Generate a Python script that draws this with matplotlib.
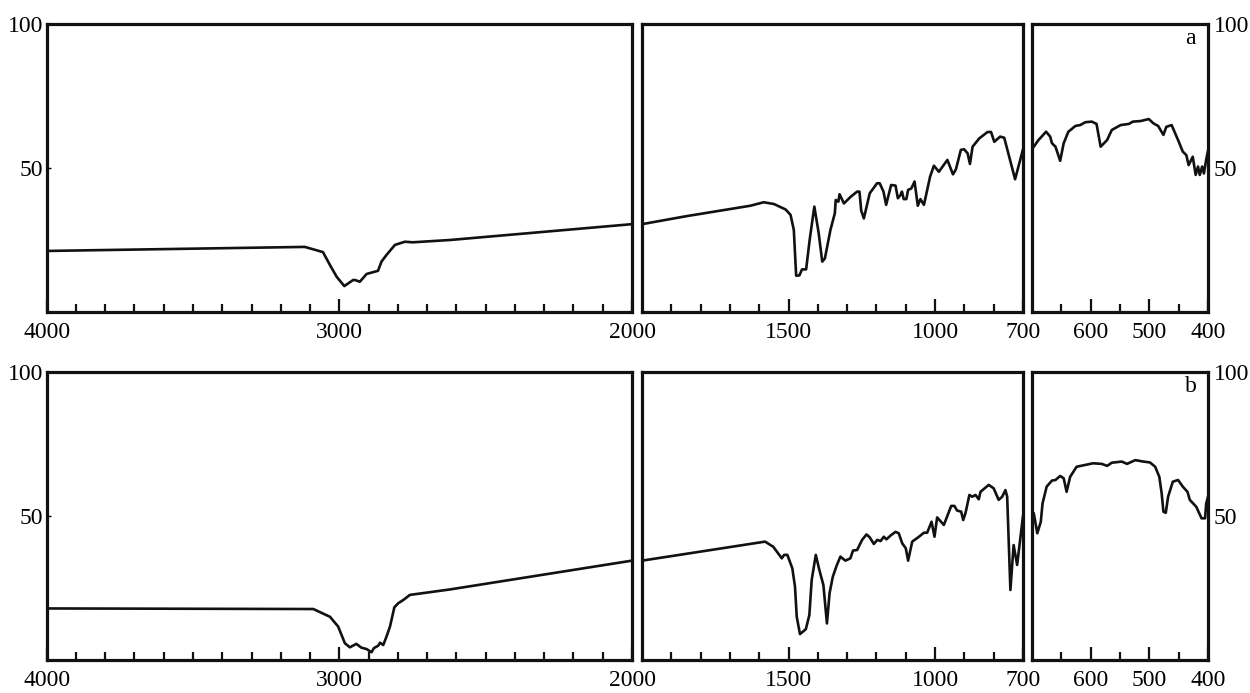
import matplotlib
matplotlib.use("Agg")
import matplotlib.pyplot as plt
from matplotlib.ticker import FixedLocator, NullLocator

plt.rcParams['font.family'] = ['Liberation Serif', 'DejaVu Serif']

# ---- data (wavenumber cm-1, transmittance %) ----
wn_a = [4000, 3118, 3056, 3032, 3009, 2983, 2953, 2946, 2930, 2907, 2868, 2856, 2839, 2810,
        2776, 2749, 2622, 2000, 1847, 1630, 1585, 1550, 1510, 1493, 1482, 1474, 1463, 1454,
        1440, 1428, 1412, 1397, 1385, 1376, 1357, 1342, 1339, 1330, 1326, 1311, 1288, 1266,
        1258, 1252, 1243, 1223, 1198, 1189, 1176, 1167, 1150, 1135, 1127, 1118, 1113, 1107,
        1098, 1092, 1081, 1070, 1059, 1050, 1038, 1017, 1004, 987, 958, 939, 929, 912, 901,
        889, 881, 872, 849, 821, 809, 798, 778, 764, 727, 700, 689, 676, 669, 666, 660, 652,
        646, 638, 626, 618, 609, 598, 590, 583, 572, 564, 549, 535, 528, 515, 501, 493, 485,
        476, 471, 462, 451, 443, 437, 433, 426, 421, 417, 414, 410, 407, 403, 400]
T_a = [21.2, 22.6, 20.8, 16.3, 12.2, 9.0, 11.1, 11.1, 10.5, 13.2, 14.3, 17.5, 19.8, 23.3,
       24.4, 24.2, 25.0, 30.5, 33.3, 36.9, 38.1, 37.5, 35.6, 33.7, 28.5, 12.6, 12.7, 14.8,
       14.8, 25.0, 36.6, 27.3, 17.5, 18.6, 28.5, 34.3, 38.9, 38.3, 40.9, 37.7, 40.0, 41.8,
       41.8, 35.2, 32.5, 41.2, 44.7, 44.7, 41.8, 37.2, 44.1, 43.9, 39.5, 40.6, 41.8, 39.2,
       39.2, 42.4, 42.9, 45.3, 36.9, 39.2, 37.2, 47.0, 50.8, 48.7, 52.8, 47.8, 49.5, 56.3, 56.5,
       55.1, 51.4, 57.4, 60.3, 62.5, 62.5, 59.1, 60.9, 60.5, 46.1, 56.5, 59.7, 62.6, 60.9, 58.6,
       57.4, 52.5, 58.6, 62.6, 64.6, 64.9, 65.9, 66.1, 65.3, 57.4, 59.7, 63.2, 64.9, 65.3, 66.1,
       66.3, 67.0, 65.5, 64.6, 61.5, 64.3, 64.9, 59.7, 55.7, 54.5, 51.0, 53.9, 47.6, 50.5, 47.6,
       50.5, 48.1, 53.0, 56.0]

wn_b = [4000, 3089, 3032, 3004, 2981, 2964, 2942, 2925, 2907, 2890, 2882, 2867, 2861, 2850,
        2839, 2827, 2812, 2799, 2782, 2759, 2622, 2000, 1580, 1552, 1523, 1515, 1504, 1487,
        1478, 1472, 1461, 1441, 1429, 1421, 1407, 1395, 1381, 1369, 1360, 1349, 1335, 1323,
        1306, 1289, 1280, 1266, 1249, 1234, 1223, 1209, 1197, 1186, 1175, 1166, 1152, 1135,
        1124, 1112, 1100, 1092, 1078, 1055, 1038, 1027, 1012, 1002, 993, 970, 945, 934, 925,
        911, 904, 896, 883, 873, 862, 851, 845, 817, 800, 783, 771, 760, 754, 743, 732, 720,
        700, 697, 691, 685, 682, 675, 666, 660, 652, 646, 641, 635, 624, 610, 596, 581, 572,
        564, 547, 538, 524, 510, 499, 490, 483, 479, 476, 472, 468, 460, 451, 443, 435, 431,
        420, 411, 405, 403, 400]
T_b = [17.9, 17.7, 15.0, 11.6, 5.8, 4.4, 5.6, 4.3, 3.8, 2.7, 4.1, 5.0, 6.0, 5.2,
       8.1, 11.6, 18.3, 19.7, 20.8, 22.6, 24.5, 34.5, 41.1, 39.3, 35.3, 36.5, 36.5, 31.8,
       25.5, 15.0, 9.0, 10.7, 15.6, 27.8, 36.5, 31.3, 26.0, 12.7, 23.2, 28.9, 33.0, 35.9,
       34.5, 35.3, 38.0, 38.2, 41.7, 43.6, 42.6, 40.3, 41.7, 41.3, 42.8, 41.9, 43.2, 44.5,
       44.0, 40.5, 38.8, 34.5, 41.1, 42.8, 44.2, 44.2, 48.0, 42.8, 49.5, 46.9, 53.5, 53.5, 51.9,
       51.5, 48.6, 51.1, 57.3, 56.7, 57.3, 55.8, 58.4, 60.8, 59.6, 55.6, 56.7, 59.0, 56.7, 24.3,
       39.9, 33.0,
       50.0, 51.0, 44.0, 48.0, 54.4, 60.2, 62.3, 62.5, 63.9, 63.1, 58.4, 63.6, 67.1, 67.7,
       68.3, 68.1, 67.4, 68.5, 68.9, 68.1, 69.4, 68.9, 68.6, 67.1, 63.6, 57.9, 51.5, 51.1,
       56.7, 61.9, 62.5, 60.2, 58.4, 55.6, 53.2, 49.2, 49.2, 54.4, 56.7]

panel_ranges = [(4000, 2000), (2000, 700), (700, 400)]
major_ticks = [[4000, 3000, 2000], [1500, 1000, 700], [600, 500, 400]]
minor_ticks = [list(range(3900, 2000, -100)), list(range(1900, 700, -100)), [650, 550, 450]]
y_ticks = [50, 100]
y_labels = ["50", "100"]
sample_labels = ["a", "b"]
series = [(wn_a, T_a), (wn_b, T_b)]

W, H = 1250, 693
fig = plt.figure(figsize=(W / 100, H / 100), dpi=100)

# panel pixel boundaries (left, right) and row (top, bottom)
px_cols = [(46.7, 632), (642, 1023), (1032, 1208)]
px_rows = [(24, 312), (372, 660)]

FS = 17
for r, (top, bot) in enumerate(px_rows):
    wn, T = series[r]
    for c, (l, rr) in enumerate(px_cols):
        ax = fig.add_axes([l / W, 1 - bot / H, (rr - l) / W, (bot - top) / H])
        ax.plot(wn, T, color='#111111', lw=1.9, solid_joinstyle='round')
        ax.set_xlim(*panel_ranges[c])
        ax.set_ylim(0, 100)
        for s in ax.spines.values():
            s.set_linewidth(2.3)
            s.set_color('#111111')
        ax.xaxis.set_major_locator(FixedLocator(major_ticks[c]))
        ax.xaxis.set_minor_locator(FixedLocator(minor_ticks[c]))
        ax.tick_params(axis='x', which='major', direction='in', length=9.5, width=1.6,
                       labelsize=FS, pad=7, color='#111111')
        ax.tick_params(axis='x', which='minor', direction='in', length=5.5, width=1.6,
                       color='#111111')
        if c == 0:
            ax.set_yticks(y_ticks)
            ax.set_yticklabels(y_labels)
            ax.tick_params(axis='y', direction='in', length=3, width=1.0, labelsize=FS,
                           pad=2.5)
        elif c == 2:
            ax.yaxis.tick_right()
            ax.set_yticks(y_ticks)
            ax.set_yticklabels(y_labels)
            ax.tick_params(axis='y', direction='in', length=0, labelsize=FS, pad=4)
            ax.text(0.90, 0.95, sample_labels[r], transform=ax.transAxes, ha='center',
                    va='center', fontsize=FS)
        else:
            ax.yaxis.set_major_locator(NullLocator())

fig.savefig("out.png", dpi=100)
